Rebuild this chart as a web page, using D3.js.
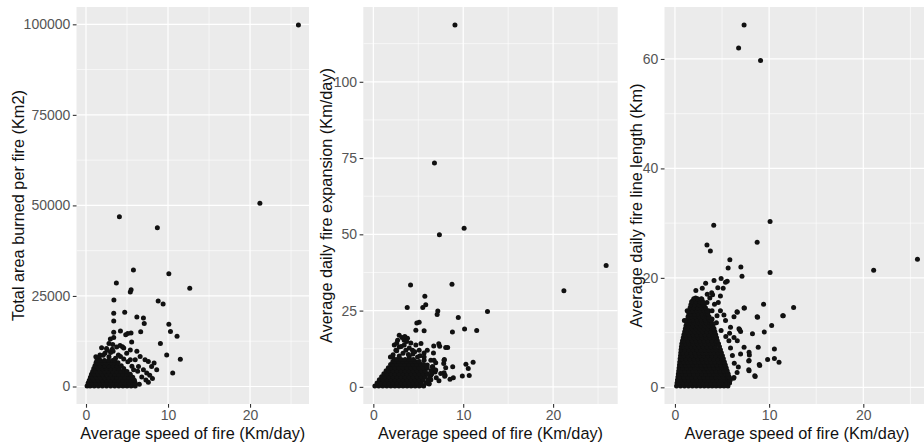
<!DOCTYPE html>
<html>
<head>
<meta charset="utf-8">
<script src="https://cdn.jsdelivr.net/npm/d3@7"></script>
<style>
  html, body { margin: 0; padding: 0; background: #ffffff; }
  svg { display: block; font-family: "Liberation Sans", Arial, sans-serif; }
</style>
</head>
<body>
<svg id="chart" width="924" height="444"></svg>
<script>
// ---------------- DATA ----------------
const xTitle = "Average speed of fire (Km/day)";
const yTitles = [
  "Total area burned per fire (Km2)",
  "Average daily fire expansion (Km/day)",
  "Average daily fire line length (Km)"
];
const speedTicks = [0, 10, 20];
const areaTicks = [0, 25000, 50000, 75000, 100000];
const expansionTicks = [0, 25, 50, 75, 100];
const lengthTicks = [0, 20, 40, 60];

// Panel 1: speed (Km/day) vs total area burned (Km2) — individual readable fires
const areaPoints = [
  [25.9,99800],[21.2,50600],[4.07,46900],[8.7,43800],[5.78,32200],[10.1,31100],[12.65,27100],[3.7,28600],
  [5.5,26700],[5.4,26100],[3.4,23900],[8.8,23600],[9.4,22800],[3.38,20200],[4.72,20500],[6.2,19200],
  [7.0,18900],[3.38,18100],[7.1,17400],[10.1,17200],[10.3,15200],[11.1,13900],[9.07,11900],[9.84,8700],
  [11.5,7500],[10.57,3700],[7.77,3100],[6.67,15100],[3.38,15000],[4.2,15300],[4.84,14300],[5.09,14600],
  [5.49,14800],[3.38,13500],[2.97,13100],[5.57,12300],[2.8,11900],[3.26,11600],[4.15,11300],[1.9,10700],
  [2.5,10500],[3.74,10900],[4.44,11000],[8.62,4600],[8.3,6500],[7.2,7400],[7.6,6900],[6.6,8300],
  [6.2,9700],[5.4,10100],[4.96,9200],[6.0,7400],[6.4,5500],[7.0,4600],[7.4,3700],[8.0,5500],
  [5.8,4600],[5.4,7400],[4.6,10600],[1.7,8700],[2.3,9200],[3.3,9700],[3.95,8700],[1.6,8000],
  [2.1,8600],[2.8,8200],[3.0,9400],[3.6,7800],[4.2,8300],[4.6,7600],[5.1,6800],[5.6,5600],
  [6.3,4200],[6.8,2600],[7.3,1800],[7.6,1200],[8.1,2200],[6.5,600],[1.2,8200],[2.6,10000],[3.2,10300]
];
// Panel 1 dense core: each row = [area, speed, speed, ...]
const areaCoreRows = [
  [150, 0.13,0.5,1.0,1.5,2.0,2.5,3.0,3.5,4.0,4.5,5.0,5.5,6.0],
  [950, 0.26,0.75,1.25,1.75,2.25,2.75,3.25,3.75,4.25,4.75,5.25,5.75,6.0],
  [1750, 0.4,0.7,1.0,1.5,2.0,2.5,3.0,3.5,4.0,4.5,5.0,5.5,5.9],
  [2550, 0.54,0.75,1.25,1.75,2.25,2.75,3.25,3.75,4.25,4.75,5.25,5.7],
  [3350, 0.67,1.0,1.5,2.0,2.5,3.0,3.5,4.0,4.5,5.0,5.4],
  [4150, 0.81,1.25,1.75,2.25,2.75,3.25,3.75,4.25,4.75,5.0],
  [4950, 0.95,1.2,1.5,2.0,2.5,3.0,3.5,4.0,4.6],
  [5750, 1.09,1.25,1.75,2.25,2.75,3.25,3.75,4.3],
  [6550, 1.22,1.5,2.0,2.5,3.0,3.5,3.9],
  [7200, 1.33,1.75,2.25,2.75,3.25,3.5]
];

// Panel 2: speed vs average daily fire expansion (Km/day)
const expansionPoints = [
  [9.08,118.6],[6.8,73.4],[10.1,52],[7.35,49.9],[25.9,39.8],[21.2,31.5],[4.14,33.4],[8.75,33.6],
  [5.73,29.7],[3.77,26],[5.83,26.9],[5.5,26],[7.17,24.9],[7.1,23.7],[9.45,22.7],[12.7,24.7],
  [4.84,20.9],[5.1,21.2],[4.73,18.6],[5.65,18.4],[8.8,18.0],[10.15,19.0],[11.5,18.5],[7.28,14.1],
  [7.38,13.3],[6.72,13.4],[8.27,12.9],[5.65,11.1],[6.69,11.1],[7.9,9.0],[7.83,7.7],[10.3,7.4],
  [11.1,8.1],[10.56,6.0],[10.67,3.7],[9.9,3.6],[8.83,6.6],[8.9,3.0],[8.53,2.5],[7.98,3.8],
  [7.87,4.6],[6.87,4.9],[6.2,1.1],[5.32,0.6],[6.6,6.6],[6.94,7.9],
  [2.88,16.9],[3.18,16.2],[2.7,15.3],[3.43,15.3],[3.8,15.9],[2.33,13.7],[2.88,13.1],[3.43,13.7],
  [4.17,14.4],[4.73,13.7],[5.1,12.0],[4.36,12.0],[3.62,12.0],[2.51,12.0],[2.15,9.8],[2.88,10.1],
  [4.0,9.8],[4.92,9.8],[5.65,9.8],[6.0,12.0],[5.65,8.7],[6.4,8.7],[6.75,8.7],[8.05,12.9],
  [7.87,8.7],[8.05,6.3],[7.94,3.5],[6.57,6.6],[6.94,5.5],[7.5,4.4],[6.4,3.8],[5.84,1.3],
  [5.28,0.6],[6.2,0.9],[2.2,10.5],[2.6,11.8],[3.3,11],[3.9,10.6],[4.4,10.8],[4.6,11.5],
  [5.2,10.2],[1.9,9.8],[6.0,7.2],[6.7,5.8],[7.0,3],[7.3,2.0],[6.4,2.3],[3.5,16.5],
  [3.7,14.9],[3.1,13.2],[2.6,14.3],[4.0,12.7],[5.3,14.2]
];
const expansionCoreRows = [
  [0.3, 0.17,0.6,1.05,1.5,1.95,2.4,2.85,3.3,3.75,4.2,4.65,5.1,5.6],
  [1.3, 0.42,0.83,1.28,1.73,2.18,2.63,3.08,3.53,3.98,4.43,4.88,5.33,5.9],
  [2.3, 0.67,1.05,1.5,1.95,2.4,2.85,3.3,3.75,4.2,4.65,5.1,5.55,6.1],
  [3.3, 0.92,1.28,1.73,2.18,2.63,3.08,3.53,3.98,4.43,4.88,5.33,5.78,6.3],
  [4.3, 1.17,1.5,1.95,2.4,2.85,3.3,3.75,4.2,4.65,5.1,5.55,6.0,6.5],
  [5.3, 1.42,1.73,2.18,2.63,3.08,3.53,3.98,4.43,4.88,5.33,5.78,6.4],
  [6.3, 1.67,1.95,2.4,2.85,3.3,3.75,4.2,4.65,5.1,5.55,6.0],
  [7.3, 1.92,2.18,2.63,3.08,3.53,3.98,4.43,4.88,5.33,5.6],
  [8.3, 2.17,2.4,2.85,3.3,3.75,4.2,4.65,5.1],
  [9.0, 2.35,2.63,3.08,3.53,3.98,4.45]
];

// Panel 3: speed vs average daily fire line length (Km)
const lengthPoints = [
  [7.34,66.2],[6.76,62.0],[9.09,59.7],[25.75,23.4],[21.1,21.4],[10.1,30.3],[4.12,29.6],[3.4,26.0],
  [3.76,24.9],[8.73,26.5],[5.83,23.3],[5.65,21.8],[7.0,22.0],[7.12,20.3],[10.1,21.0],[4.9,19.9],
  [5.55,19.4],[5.37,19.2],[4.15,19.5],[3.26,19.0],[4.55,18.2],[5.12,18.1],[4.83,16.7],[2.22,17.7],
  [3.43,17.0],[9.41,15.2],[12.6,14.6],[7.37,14.5],[11.5,13.1],[6.59,13.8],[6.27,12.9],[8.73,12.9],
  [10.27,11.3],[6.87,10.5],[6.97,10.2],[8.23,9.8],[8.84,7.3],[10.56,7.0],[9.84,5.1],[10.56,5.25],
  [11.05,4.6],[7.9,5.9],[7.84,4.8],[9.0,4.0],[7.84,3.2],[8.52,2.0],[6.22,1.65],[5.26,1.1],[4.44,0.7],
  [2.86,16.1],[2.51,15.9],[2.68,15.3],[2.15,14.3],[1.97,13.4],[2.33,13.1],[2.86,14.6],[3.4,15.5],
  [3.58,14.0],[3.94,14.0],[4.83,14.0],[4.47,13.1],[3.94,12.5],[5.37,12.2],[5.9,11.0],[6.8,10.7],
  [6.27,9.1],[5.73,8.5],[6.62,8.5],[7.34,7.3],[6.97,6.1],[7.87,6.4],[7.87,4.9],[6.73,3.7],
  [6.27,1.8],[7.87,3.05],[8.48,2.1],[9.48,10.1],[8.77,12.8],[8.95,4.15],[11.45,13.1],[6.62,13.7],
  [7.34,14.5],[4.4,11.8],[4.9,10.4],[5.4,9.3],[5.9,7.2],[6.1,5.8],[6.3,4.4],[6.6,2.7],
  [5.8,9.9],[4.2,15.2],[3.7,16.3],[2.2,16.3],[1.9,15.8],[1.3,14.0],[1.0,12.2],[4.6,15.5],
  [5.2,13.2],[3.9,17.3],[2.9,18.1],[4.0,16.9]
];
const lengthCoreRows = [
  [0.25, 0.17,0.59,1.01,1.43,1.85,2.27,2.69,3.11,3.53,3.95,4.37,4.79,5.21,5.63],
  [0.8, 0.22,0.43,0.85,1.27,1.69,2.11,2.53,2.95,3.37,3.79,4.21,4.63,5.05,5.47,5.8],
  [1.35, 0.27,0.64,1.06,1.48,1.9,2.32,2.74,3.16,3.58,4.0,4.42,4.84,5.26,5.68,5.87],
  [1.9, 0.32,0.53,0.95,1.37,1.79,2.21,2.63,3.05,3.47,3.89,4.31,4.73,5.15,5.57,5.76],
  [2.45, 0.36,0.74,1.16,1.58,2.0,2.42,2.84,3.26,3.68,4.1,4.52,4.94,5.36,5.66],
  [3.0, 0.4,0.61,1.03,1.45,1.87,2.29,2.71,3.13,3.55,3.97,4.39,4.81,5.23,5.55],
  [3.55, 0.44,0.82,1.24,1.66,2.08,2.5,2.92,3.34,3.76,4.18,4.6,5.02,5.45],
  [4.1, 0.48,0.69,1.11,1.53,1.95,2.37,2.79,3.21,3.63,4.05,4.47,4.89,5.35],
  [4.65, 0.51,0.9,1.32,1.74,2.16,2.58,3.0,3.42,3.84,4.26,4.68,5.1,5.25],
  [5.2, 0.55,0.76,1.18,1.6,2.02,2.44,2.86,3.28,3.7,4.12,4.54,4.96,5.14],
  [5.75, 0.59,0.97,1.39,1.81,2.23,2.65,3.07,3.49,3.91,4.33,4.75,5.04],
  [6.3, 0.62,0.83,1.25,1.67,2.09,2.51,2.93,3.35,3.77,4.19,4.61,4.93],
  [6.85, 0.65,1.04,1.46,1.88,2.3,2.72,3.14,3.56,3.98,4.4,4.83],
  [7.4, 0.69,0.9,1.32,1.74,2.16,2.58,3.0,3.42,3.84,4.26,4.73],
  [7.95, 0.73,1.11,1.53,1.95,2.37,2.79,3.21,3.63,4.05,4.47,4.63],
  [8.5, 0.8,1.0,1.42,1.84,2.26,2.68,3.1,3.52,3.94,4.36,4.5],
  [9.05, 0.88,1.21,1.63,2.05,2.47,2.89,3.31,3.73,4.15,4.42],
  [9.6, 0.95,1.1,1.52,1.94,2.36,2.78,3.2,3.62,4.04,4.33],
  [10.15, 1.03,1.31,1.73,2.15,2.57,2.99,3.41,3.83,4.24],
  [10.7, 1.1,1.42,1.84,2.26,2.68,3.1,3.52,3.94,4.15],
  [11.25, 1.17,1.53,1.95,2.37,2.79,3.21,3.63,4.04],
  [11.8, 1.24,1.64,2.06,2.48,2.9,3.32,3.74,3.89],
  [12.35, 1.32,1.54,1.96,2.38,2.8,3.22,3.64,3.75],
  [12.9, 1.39,1.75,2.17,2.59,3.01,3.43,3.62],
  [13.45, 1.47,1.65,2.07,2.49,2.91,3.33,3.49],
  [14.0, 1.54,1.86,2.28,2.7,3.12,3.4],
  [14.55, 1.61,1.98,2.4,2.82,3.24],
  [15.1, 1.69,2.1,2.52,2.94,3.1],
  [15.65, 1.77,2.2,2.62,2.95],
  [16.2, 2.0,2.4,2.8]
];

// ---------------- DRAWING ----------------
const svg = d3.select("#chart");
const panelTop = 7, panelBottom = 404;

function rowsToPoints(rows) {
  const out = [];
  rows.forEach(r => { for (let i = 1; i < r.length; i++) out.push([r[i], r[0]]); });
  return out;
}

const panels = [
  { left: 76.5, right: 309, ticksY: areaTicks, title: yTitles[0], titleX: 18,
    points: areaPoints.concat(rowsToPoints(areaCoreRows)) },
  { left: 363.3, right: 617.7, ticksY: expansionTicks, title: yTitles[1], titleX: 326,
    points: expansionPoints.concat(rowsToPoints(expansionCoreRows)) },
  { left: 664.5, right: 929.5, ticksY: lengthTicks, title: yTitles[2], titleX: 636,
    points: lengthPoints.concat(rowsToPoints(lengthCoreRows)) }
];

function expand(ext) { const p = (ext[1] - ext[0]) * 0.05; return [ext[0] - p, ext[1] + p]; }
function minorBreaks(ticks, domain) {
  const step = ticks[1] - ticks[0];
  const out = [];
  for (let i = -1; i < ticks.length; i++) {
    const v = ticks[0] + step * (i + 0.5);
    if (v > domain[0] && v < domain[1]) out.push(v);
  }
  return out;
}

const clip = svg.append("defs");

panels.forEach((p, idx) => {
  const xDom = expand(d3.extent(p.points, d => d[0]));
  const yDom = expand(d3.extent(p.points, d => d[1]));
  const x = d3.scaleLinear().domain(xDom).range([p.left, p.right]);
  const y = d3.scaleLinear().domain(yDom).range([panelBottom, panelTop]);

  clip.append("clipPath").attr("id", "clip" + idx)
    .append("rect").attr("x", p.left).attr("y", panelTop)
    .attr("width", p.right - p.left).attr("height", panelBottom - panelTop);

  const g = svg.append("g");
  g.append("rect").attr("x", p.left).attr("y", panelTop)
    .attr("width", p.right - p.left).attr("height", panelBottom - panelTop)
    .attr("fill", "#EBEBEB");

  const grid = g.append("g").attr("clip-path", `url(#clip${idx})`);
  // minor grid
  grid.selectAll(".mx").data(minorBreaks(speedTicks, xDom)).enter().append("line")
    .attr("x1", d => x(d)).attr("x2", d => x(d)).attr("y1", panelTop).attr("y2", panelBottom)
    .attr("stroke", "#fff").attr("stroke-width", 0.6);
  grid.selectAll(".my").data(minorBreaks(p.ticksY, yDom)).enter().append("line")
    .attr("y1", d => y(d)).attr("y2", d => y(d)).attr("x1", p.left).attr("x2", p.right)
    .attr("stroke", "#fff").attr("stroke-width", 0.6);
  // major grid
  grid.selectAll(".Mx").data(speedTicks).enter().append("line")
    .attr("x1", d => x(d)).attr("x2", d => x(d)).attr("y1", panelTop).attr("y2", panelBottom)
    .attr("stroke", "#fff").attr("stroke-width", 1.2);
  grid.selectAll(".My").data(p.ticksY).enter().append("line")
    .attr("y1", d => y(d)).attr("y2", d => y(d)).attr("x1", p.left).attr("x2", p.right)
    .attr("stroke", "#fff").attr("stroke-width", 1.2);

  // points
  grid.selectAll("circle").data(p.points).enter().append("circle")
    .attr("cx", d => x(d[0])).attr("cy", d => y(d[1])).attr("r", 2.5)
    .attr("fill", "#111111");

  // axes
  const xAxis = d3.axisBottom(x).tickValues(speedTicks).tickSize(3.7).tickPadding(2.3).tickFormat(d3.format("d"));
  const gx = g.append("g").attr("transform", `translate(0,${panelBottom})`).call(xAxis);
  const yAxis = d3.axisLeft(y).tickValues(p.ticksY).tickSize(3.7).tickPadding(2.5).tickFormat(d3.format("d"));
  const gy = g.append("g").attr("transform", `translate(${p.left},0)`).call(yAxis);
  [gx, gy].forEach(a => {
    a.select(".domain").remove();
    a.selectAll(".tick line").attr("stroke", "#333333").attr("stroke-width", 1.1);
    a.selectAll(".tick text").attr("fill", "#555555").attr("font-size", "14px")
      .attr("font-family", "Liberation Sans, Arial, sans-serif");
  });

  // titles
  svg.append("text").attr("x", (p.left + p.right) / 2).attr("y", 438.5)
    .attr("text-anchor", "middle").attr("font-size", "16.3px").attr("fill", "#111")
    .text(xTitle);
  svg.append("text")
    .attr("transform", `translate(${p.titleX},${(panelTop + panelBottom) / 2}) rotate(-90)`)
    .attr("dy", "0.35em").attr("text-anchor", "middle").attr("font-size", "16.3px").attr("fill", "#111")
    .text(p.title);
});
</script>
</body>
</html>
